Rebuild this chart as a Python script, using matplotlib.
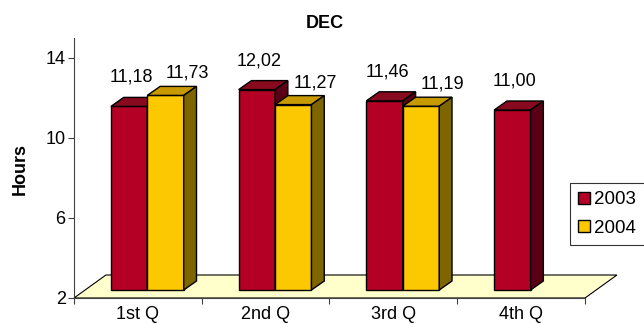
import numpy as np
import matplotlib
matplotlib.use('Agg')
import matplotlib.pyplot as plt
from matplotlib.patches import Polygon, Patch

plt.rcParams['font.family'] = ['Liberation Sans', 'DejaVu Sans']

quarters = ['1st Q', '2nd Q', '3rd Q', '4th Q']
series = ['2003', '2004']
hours_2003 = [11.18, 12.02, 11.46, 11.00]
hours_2004 = [11.73, 11.27, 11.19, np.nan]
yticks = [2, 6, 10, 14]

front = ['#B40024', '#FCC800']
top = ['#880A1E', '#C69A00']
side = ['#5A0016', '#7D6500']

W, H = 644, 324
fig = plt.figure(figsize=(W / 100, H / 100), dpi=100)
ax = fig.add_axes([74 / W, 26 / H, 511 / W, 260 / H])
ax.set_xlim(0, 4)
ax.set_ylim(2, 15)

# fake 3D: depth offsets in data units
floor_dx, floor_dy = 0.25, 1.15
bar_dx, bar_dy = 0.10, 0.45
lift = 0.4          # bars stand in the middle of the floor
x_start, bar_w = 0.289, 0.285

floor = Polygon([(0, 2), (4, 2), (4 + floor_dx, 2 + floor_dy), (floor_dx, 2 + floor_dy)],
                closed=True, facecolor='#FFFFCC', edgecolor='black', lw=0.8,
                clip_on=False, zorder=1)
ax.add_patch(floor)

for s, vals in enumerate([hours_2003, hours_2004]):
    for i, v in enumerate(vals):
        if np.isnan(v):
            continue
        x0 = i + x_start + s * bar_w
        x1 = x0 + bar_w
        y0 = 2 + lift
        y1 = v + lift
        kw = dict(closed=True, edgecolor='black', lw=1.0, clip_on=False, zorder=3)
        ax.add_patch(Polygon([(x0, y0), (x1, y0), (x1, y1), (x0, y1)], facecolor=front[s], **kw))
        ax.add_patch(Polygon([(x0, y1), (x1, y1), (x1 + bar_dx, y1 + bar_dy), (x0 + bar_dx, y1 + bar_dy)],
                             facecolor=top[s], **kw))
        ax.add_patch(Polygon([(x1, y0), (x1 + bar_dx, y0 + bar_dy), (x1 + bar_dx, y1 + bar_dy), (x1, y1)],
                             facecolor=side[s], **kw))
        label = '{:.2f}'.format(v).replace('.', ',')
        if s == 0:
            ax.text(x0 + bar_w / 2 + 0.02, y1 + 1.45, label, ha='center', va='center', fontsize=13)
        else:
            ax.text(x0 + bar_w / 2 + 0.17, y1 + 1.1, label, ha='center', va='center', fontsize=13)

for side_name in ['top', 'right']:
    ax.spines[side_name].set_visible(False)
ax.spines['left'].set_color('#404040')
ax.spines['bottom'].set_color('#404040')
ax.spines['left'].set_zorder(2)

ax.set_yticks(yticks)
ax.set_yticklabels([str(t) for t in yticks], fontsize=13)
ax.set_xticks(range(5))
ax.set_xticklabels([])
ax.set_xticks(np.arange(4) + 0.5, minor=True)
ax.set_xticklabels(quarters, minor=True, fontsize=13)
ax.tick_params(axis='x', which='minor', length=0, pad=5.5)
ax.tick_params(axis='x', which='major', length=4, color='#404040')
ax.tick_params(axis='y', length=4, color='#404040', pad=2)

fig.text(325 / W, 1 - 23 / H, 'DEC', ha='center', va='center', fontsize=13, fontweight='bold')
fig.text(20 / W, 1 - 169 / H, 'Hours', ha='center', va='center', rotation=90,
         fontsize=13, fontweight='bold')

handles = [Patch(facecolor=front[k], edgecolor='black', lw=1.0) for k in range(2)]
fig.legend(handles, series, loc='upper left', bbox_to_anchor=(570 / W, 1 - 183 / H),
           frameon=True, fancybox=False, edgecolor='black', fontsize=13.5,
           handlelength=0.6, handleheight=0.6, handletextpad=0.25, borderpad=0.45,
           labelspacing=0.6, borderaxespad=0).get_frame().set_linewidth(0.8)

fig.savefig('out.png', dpi=100)
